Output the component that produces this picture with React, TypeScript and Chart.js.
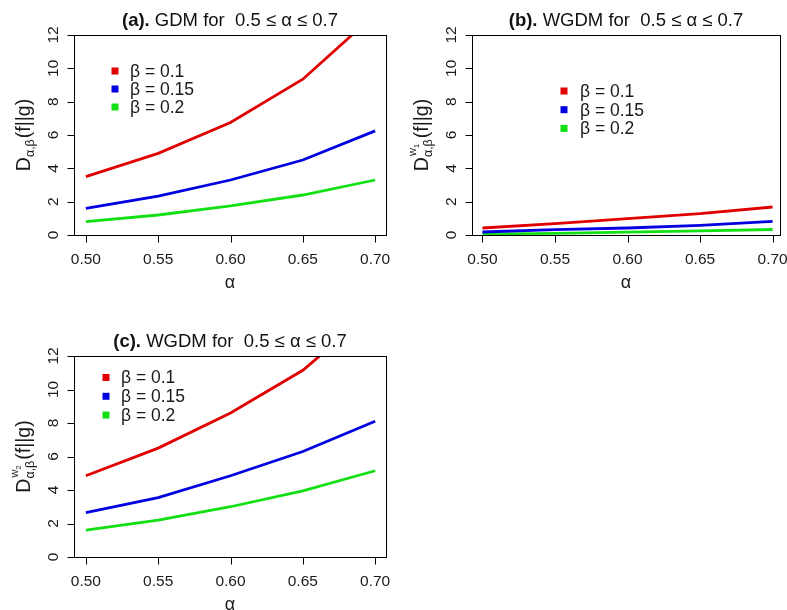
import React, { useEffect, useRef } from "react";
import { Chart, registerables } from "chart.js";

Chart.register(...registerables);

const alphaValues = [0.5, 0.55, 0.6, 0.65, 0.7];
const xTickValues = [0.5, 0.55, 0.6, 0.65, 0.7];
const yTickValues = [0, 2, 4, 6, 8, 10, 12];
const betaLabels = ["β = 0.1", "β = 0.15", "β = 0.2"];

const gdmBeta01 = [3.5, 4.9, 6.75, 9.35, 13.25];
const gdmBeta015 = [1.6, 2.33, 3.3, 4.5, 6.25];
const gdmBeta02 = [0.8, 1.2, 1.75, 2.4, 3.3];

const wgdm1Beta01 = [0.42, 0.68, 0.98, 1.28, 1.68];
const wgdm1Beta015 = [0.18, 0.32, 0.42, 0.58, 0.82];
const wgdm1Beta02 = [0.05, 0.1, 0.17, 0.25, 0.33];

const wgdm2Beta01 = [4.85, 6.5, 8.6, 11.15, 14.8];
const wgdm2Beta015 = [2.65, 3.55, 4.85, 6.3, 8.1];
const wgdm2Beta02 = [1.6, 2.2, 3.0, 3.95, 5.15];

const COLORS = ["#e00000", "#0000e0", "#12e012"];
const FONT = '"Liberation Sans", Arial, sans-serif';

type Panel = {
  canvas: { x: number; y: number; w: number; h: number };
  box: { l: number; t: number; r: number; b: number };
  xMin: number;
  xMax: number;
  titleBold: string;
  titleRest: string;
  sup: string | null;
  series: number[][];
  legend: { sx: number; sy: number; dy: number; tx: number };
};

const panels: Panel[] = [
  {
    canvas: { x: 0, y: 0, w: 393, h: 305 },
    box: { l: 74, t: 35, r: 386, b: 235 },
    xMin: 0.4918,
    xMax: 0.7075,
    titleBold: "(a).",
    titleRest: " GDM for  0.5 ≤ α ≤ 0.7",
    sup: null,
    series: [gdmBeta01, gdmBeta015, gdmBeta02],
    legend: { sx: 115, sy: 71, dy: 18, tx: 130 },
  },
  {
    canvas: { x: 393, y: 0, w: 394, h: 305 },
    box: { l: 472, t: 35, r: 780, b: 235 },
    xMin: 0.4928,
    xMax: 0.7051,
    titleBold: "(b).",
    titleRest: " WGDM for  0.5 ≤ α ≤ 0.7",
    sup: "1",
    series: [wgdm1Beta01, wgdm1Beta015, wgdm1Beta02],
    legend: { sx: 564, sy: 91, dy: 18.7, tx: 580 },
  },
  {
    canvas: { x: 0, y: 305, w: 393, h: 305 },
    box: { l: 74, t: 356, r: 386, b: 557 },
    xMin: 0.4918,
    xMax: 0.7075,
    titleBold: "(c).",
    titleRest: " WGDM for  0.5 ≤ α ≤ 0.7",
    sup: "2",
    series: [wgdm2Beta01, wgdm2Beta015, wgdm2Beta02],
    legend: { sx: 106, sy: 377.5, dy: 18.8, tx: 121 },
  },
];

function makeDecor(p: Panel) {
  return {
    id: "rDecor",
    afterDraw(chart: any) {
      const ctx = chart.ctx as CanvasRenderingContext2D;
      const xs = chart.scales.x;
      const ys = chart.scales.y;
      const ca = chart.chartArea;
      const ox = p.canvas.x;
      const oy = p.canvas.y;
      ctx.save();
      ctx.strokeStyle = "#000";
      ctx.lineWidth = 1;
      // box
      ctx.strokeRect(Math.round(ca.left) + 0.5, Math.round(ca.top) + 0.5, Math.round(ca.right - ca.left), Math.round(ca.bottom - ca.top));
      const txt = "#1a1a1a";
      // x axis
      const xb = Math.round(ca.bottom) + 0.5;
      ctx.beginPath();
      ctx.moveTo(xs.getPixelForValue(xTickValues[0]), xb);
      ctx.lineTo(xs.getPixelForValue(xTickValues[xTickValues.length - 1]), xb);
      xTickValues.forEach((v) => {
        const px = Math.round(xs.getPixelForValue(v)) + 0.5;
        ctx.moveTo(px, xb);
        ctx.lineTo(px, xb + 7);
      });
      ctx.stroke();
      ctx.fillStyle = txt;
      ctx.font = `15.5px ${FONT}`;
      ctx.textAlign = "center";
      ctx.textBaseline = "middle";
      xTickValues.forEach((v) => {
        ctx.fillText(v.toFixed(2), xs.getPixelForValue(v), ca.bottom + 25);
      });
      ctx.font = `18px ${FONT}`;
      ctx.fillText("α", (ca.left + ca.right) / 2, ca.bottom + 48);
      // y axis
      const yl = Math.round(ca.left) + 0.5;
      ctx.beginPath();
      yTickValues.forEach((v) => {
        const py = Math.round(ys.getPixelForValue(v)) + 0.5;
        ctx.moveTo(yl, py);
        ctx.lineTo(yl - 7, py);
      });
      ctx.stroke();
      ctx.font = `15.5px ${FONT}`;
      yTickValues.forEach((v) => {
        const py = ys.getPixelForValue(v);
        ctx.save();
        ctx.translate(ca.left - 20, py);
        ctx.rotate(-Math.PI / 2);
        ctx.textAlign = "center";
        ctx.textBaseline = "middle";
        ctx.fillText(String(v), 0, 0);
        ctx.restore();
      });
      // y title
      ctx.save();
      ctx.translate(ca.left - 51, (ca.top + ca.bottom) / 2);
      ctx.rotate(-Math.PI / 2);
      ctx.textBaseline = "alphabetic";
      ctx.textAlign = "left";
      const bigF = `19.5px ${FONT}`;
      const subF = `12.5px ${FONT}`;
      const supF = `11px ${FONT}`;
      const supSubF = `8px ${FONT}`;
      ctx.font = bigF;
      const wD = ctx.measureText("D").width;
      const wTail = ctx.measureText("(f||g)").width;
      ctx.font = subF;
      const wSub = ctx.measureText("α,β").width;
      let wSup = 0;
      if (p.sup) {
        ctx.font = supF;
        const ww = ctx.measureText("w").width;
        ctx.font = supSubF;
        wSup = ww + ctx.measureText(p.sup).width;
      }
      const wMid = Math.max(wSub, wSup) + 1;
      const total = wD + wMid + wTail;
      let x0 = -total / 2;
      const base = 7;
      ctx.font = bigF;
      ctx.fillText("D", x0, base);
      x0 += wD;
      ctx.font = subF;
      ctx.fillText("α,β", x0, base + 4);
      if (p.sup) {
        ctx.font = supF;
        ctx.fillText("w", x0 + 1, base - 12);
        const ww = ctx.measureText("w").width;
        ctx.font = supSubF;
        ctx.fillText(p.sup, x0 + 1 + ww, base - 9);
      }
      x0 += wMid;
      ctx.font = bigF;
      ctx.fillText("(f||g)", x0, base);
      ctx.restore();
      // title
      ctx.font = `bold 18.5px ${FONT}`;
      const wb = ctx.measureText(p.titleBold).width;
      ctx.font = `18.5px ${FONT}`;
      const wr = ctx.measureText(p.titleRest).width;
      const tx = (ca.left + ca.right) / 2 - (wb + wr) / 2;
      ctx.textAlign = "left";
      ctx.textBaseline = "middle";
      ctx.fillStyle = "#111";
      ctx.font = `bold 18.5px ${FONT}`;
      ctx.fillText(p.titleBold, tx, ca.top - 14);
      ctx.font = `18.5px ${FONT}`;
      ctx.fillText(p.titleRest, tx + wb, ca.top - 14);
      // legend
      const lg = p.legend;
      betaLabels.forEach((lab, i) => {
        const cy = lg.sy + i * lg.dy - oy;
        ctx.fillStyle = COLORS[i];
        ctx.fillRect(lg.sx - ox - 3.5, cy - 3.5, 7, 7);
        ctx.fillStyle = txt;
        ctx.font = `17.5px ${FONT}`;
        ctx.fillText(lab, lg.tx - ox, cy + 1);
      });
      ctx.restore();
    },
  };
}

function PanelChart({ p }: { p: Panel }) {
  const ref = useRef<HTMLCanvasElement | null>(null);
  useEffect(() => {
    if (!ref.current) return;
    const c = p.canvas;
    const chart = new Chart(ref.current, {
      type: "line",
      data: {
        datasets: p.series.map((s, i) => ({
          label: betaLabels[i],
          data: alphaValues.map((a, j) => ({ x: a, y: s[j] })),
          borderColor: COLORS[i],
          backgroundColor: COLORS[i],
          borderWidth: 2.8,
          pointRadius: 0,
          tension: 0,
          fill: false,
        })),
      },
      options: {
        responsive: false,
        animation: false,
        events: [],
        layout: {
          padding: {
            left: p.box.l - c.x,
            top: p.box.t - c.y,
            right: c.x + c.w - p.box.r,
            bottom: c.y + c.h - p.box.b,
          },
        },
        plugins: { legend: { display: false }, tooltip: { enabled: false }, title: { display: false } },
        scales: {
          x: { type: "linear", min: p.xMin, max: p.xMax, display: false },
          y: { type: "linear", min: 0, max: 12, display: false },
        },
      },
      plugins: [makeDecor(p)],
    });
    return () => chart.destroy();
  }, [p]);
  return (
    <canvas
      ref={ref}
      width={p.canvas.w}
      height={p.canvas.h}
      style={{ position: "absolute", left: p.canvas.x, top: p.canvas.y, width: p.canvas.w, height: p.canvas.h }}
    />
  );
}

export default function App() {
  return (
    <div style={{ position: "fixed", left: 0, top: 0, width: 787, height: 610, background: "#fff" }}>
      {panels.map((p, i) => (
        <PanelChart key={i} p={p} />
      ))}
    </div>
  );
}
